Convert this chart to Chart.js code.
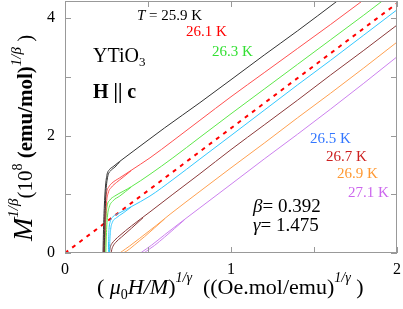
<!DOCTYPE html>
<html lang="en">
<head>
<meta charset="UTF-8">
<title>YTiO3 modified Arrott plot</title>
<script src="https://cdn.jsdelivr.net/npm/chart.js"></script>
<style>
  html, body { margin: 0; padding: 0; background: #fff; }
  #wrap { width: 403px; height: 309px; }
</style>
</head>
<body>
<div id="wrap"><canvas id="arrott"></canvas></div>
<script>
// temperatures (K) and colours
const temps = ['25.9', '26.1', '26.3', '26.5', '26.7', '26.9', '27.1'];
const lineColors = ['#333333', '#ff5050', '#5ee84a', '#33c8ff', '#8b3a3a', '#ffa050', '#cc80ee'];
const labelColors = ['#000000', '#ff0000', '#33e033', '#3377ff', '#cc2020', '#ff9933', '#cc66ee'];

// (mu0 H/M)^(1/gamma) , M^(1/beta)
const t259 = [[0.229,0],[0.232,0.4],[0.237,0.8],[0.243,1.1],[0.252,1.32],[0.268,1.42],[0.29,1.47],[0.33,1.56],[0.41,1.73],[0.5,1.92],[0.6,2.13],[0.813,2.56],[1.0,2.95],[1.2,3.37],[1.4,3.78],[1.645,4.3]];
const t261 = [[0.232,0],[0.236,0.4],[0.242,0.8],[0.25,1.02],[0.265,1.13],[0.283,1.19],[0.33,1.28],[0.4,1.41],[0.512,1.62],[0.65,1.91],[0.813,2.26],[1.0,2.66],[1.2,3.07],[1.4,3.48],[1.6,3.89],[1.795,4.3]];
const t263 = [[0.24,0],[0.243,0.3],[0.247,0.6],[0.254,0.8],[0.27,0.9],[0.3,0.97],[0.35,1.05],[0.4,1.13],[0.512,1.34],[0.65,1.62],[0.813,1.97],[1.0,2.37],[1.2,2.79],[1.4,3.21],[1.6,3.63],[1.8,4.05],[1.916,4.3]];
const t265 = [[0.262,0],[0.262,0.2],[0.265,0.4],[0.272,0.53],[0.29,0.62],[0.32,0.67],[0.4,0.79],[0.512,0.97],[0.65,1.25],[0.813,1.6],[1.0,2.0],[1.2,2.43],[1.4,2.86],[1.6,3.28],[1.8,3.71],[2.0,4.14]];
const t267 = [[0.268,0],[0.27,0.05],[0.275,0.12],[0.285,0.17],[0.3,0.22],[0.331,0.3],[0.4,0.46],[0.512,0.7],[0.65,1.0],[0.813,1.35],[1.0,1.76],[1.2,2.18],[1.4,2.6],[1.6,3.03],[1.8,3.45],[2.0,3.88]];
const t269 = [[0.33,0],[0.345,0.03],[0.365,0.07],[0.39,0.12],[0.45,0.25],[0.55,0.47],[0.633,0.66],[0.813,1.05],[1.0,1.45],[1.2,1.87],[1.4,2.3],[1.6,2.72],[1.8,3.15],[2.0,3.59]];
const t271 = [[0.455,0],[0.47,0.03],[0.49,0.07],[0.52,0.13],[0.6,0.31],[0.71,0.55],[0.813,0.77],[1.0,1.17],[1.2,1.6],[1.4,2.02],[1.6,2.45],[1.8,2.89],[2.0,3.34]];
// second sweep, visible only at low field
const t259b = [[0.236,0],[0.24,0.5],[0.246,1.0],[0.256,1.28],[0.275,1.4],[0.3,1.46],[0.33,1.555]];
const t261b = [[0.238,0],[0.243,0.45],[0.25,0.85],[0.26,1.02],[0.28,1.12],[0.31,1.2],[0.35,1.29],[0.4,1.405]];
const t263b = [[0.246,0],[0.25,0.35],[0.256,0.63],[0.266,0.78],[0.29,0.89],[0.33,0.97],[0.4,1.125]];
const t265b = [[0.268,0],[0.27,0.2],[0.275,0.4],[0.285,0.52],[0.31,0.6],[0.35,0.68],[0.4,0.785]];
const t267b = [[0.278,0],[0.282,0.06],[0.29,0.12],[0.305,0.18],[0.34,0.27],[0.4,0.42],[0.47,0.6]];
const t269b = [[0.35,0],[0.37,0.03],[0.39,0.07],[0.42,0.14],[0.48,0.28],[0.6,0.58]];
const t271b = [[0.475,0],[0.49,0.03],[0.51,0.07],[0.54,0.13],[0.6,0.27],[0.72,0.565]];
const curves = [t259, t261, t263, t265, t267, t269, t271];
const returns = [t259b, t261b, t263b, t265b, t267b, t269b, t271b];

// dashed guide through the origin
const guide = [[0,0],[2,4.25]];

// axes
const xTicks = [0, 1, 2];
const yTicks = [0, 2, 4];
const xMax = 2, yMax = 4.29;

const SERIF = '"Liberation Serif", "DejaVu Serif", serif';

function curveSet(pts, color, label) {
    return {
        label: label,
        data: pts.map(p => ({ x: p[0], y: p[1] })),
        borderColor: color,
        borderWidth: 1,
        pointRadius: 0,
        showLine: true,
        cubicInterpolationMode: 'monotone',
        fill: false
    };
}
const datasets = [];
curves.forEach((pts, i) => {
    datasets.push(curveSet(pts, lineColors[i], temps[i] + ' K'));
    datasets.push(curveSet(returns[i], lineColors[i], temps[i] + ' K (2)'));
});
datasets.push({
    label: 'guide',
    data: guide.map(p => ({ x: p[0], y: p[1] })),
    borderColor: '#ff0000',
    borderWidth: 2,
    borderDash: [4, 5],
    pointRadius: 0,
    showLine: true,
    fill: false
});

// draw a run of text pieces (for sub/superscripts)
function rich(ctx, x, y, parts) {
    for (const p of parts) {
        ctx.font = p.f;
        ctx.fillText(p.t, x, y + (p.dy || 0));
        x += ctx.measureText(p.t).width;
    }
    return x;
}

const decor = {
    id: 'decor',
    afterDraw(chart) {
        const ctx = chart.ctx;
        const a = chart.chartArea;
        const xs = chart.scales.x, ys = chart.scales.y;
        ctx.save();
        // frame
        ctx.strokeStyle = '#999';
        ctx.lineWidth = 1;
        ctx.strokeRect(a.left + 0.5, a.top + 0.5, a.right - a.left - 1, a.bottom - a.top - 1);
        // inward ticks on all sides
        ctx.beginPath();
        for (let v = 0; v <= xMax; v += 0.5) {
            const px = Math.round(xs.getPixelForValue(v)) + 0.5;
            ctx.moveTo(px, a.bottom); ctx.lineTo(px, a.bottom - 6);
            ctx.moveTo(px, a.top); ctx.lineTo(px, a.top + 6);
        }
        for (let v = 0; v <= yMax; v += 1) {
            const py = Math.round(ys.getPixelForValue(v)) + 0.5;
            ctx.moveTo(a.left, py); ctx.lineTo(a.left + 6, py);
            ctx.moveTo(a.right, py); ctx.lineTo(a.right - 6, py);
        }
        ctx.stroke();

        // tick labels
        ctx.fillStyle = '#000';
        ctx.font = '16px ' + SERIF;
        ctx.textAlign = 'center';
        ctx.textBaseline = 'middle';
        for (const v of xTicks) ctx.fillText(String(v), xs.getPixelForValue(v), a.bottom + 17);
        ctx.textAlign = 'right';
        for (const v of yTicks) ctx.fillText(String(v), a.left - 10, ys.getPixelForValue(v));

        ctx.textAlign = 'left';
        ctx.textBaseline = 'alphabetic';
        // temperature labels
        ctx.fillStyle = labelColors[0];
        rich(ctx, 137, 20, [
            { t: 'T', f: 'italic 15px ' + SERIF },
            { t: ' = ' + temps[0] + ' K', f: '15px ' + SERIF }
        ]);
        const labPos = [null, [186, 36], [212, 56], [310, 143], [326, 161], [337, 178], [348, 197]];
        ctx.font = '15px ' + SERIF;
        for (let i = 1; i < temps.length; i++) {
            ctx.fillStyle = labelColors[i];
            ctx.fillText(temps[i] + ' K', labPos[i][0], labPos[i][1]);
        }
        ctx.fillStyle = '#000';
        rich(ctx, 93, 62, [
            { t: 'YTiO', f: '20px ' + SERIF },
            { t: '3', f: '13px ' + SERIF, dy: 4 }
        ]);
        ctx.font = 'bold 20px ' + SERIF;
        ctx.fillText('H || c', 93, 98);
        rich(ctx, 253, 212, [
            { t: 'β', f: 'italic 19px ' + SERIF },
            { t: '= 0.392', f: '19px ' + SERIF }
        ]);
        rich(ctx, 253, 231, [
            { t: 'γ', f: 'italic 19px ' + SERIF },
            { t: '= 1.475', f: '19px ' + SERIF }
        ]);

        // x axis title
        rich(ctx, 97, 294, [
            { t: '( ', f: '22px ' + SERIF },
            { t: 'μ', f: 'italic 22px ' + SERIF },
            { t: '0', f: '14px ' + SERIF, dy: 5 },
            { t: 'H/M', f: 'italic 22px ' + SERIF },
            { t: ')', f: '22px ' + SERIF },
            { t: '1/γ', f: 'italic 14px ' + SERIF, dy: -12 },
            { t: '  ((Oe.mol/emu)', f: '22px ' + SERIF },
            { t: '1/γ', f: 'italic 14px ' + SERIF, dy: -12 },
            { t: ' )', f: '22px ' + SERIF }
        ]);

        // y axis title, rotated
        ctx.translate(32, 241);
        ctx.rotate(-Math.PI / 2);
        rich(ctx, 0, 0, [
            { t: 'M', f: 'italic 28px ' + SERIF },
            { t: '1/β', f: 'italic 15px ' + SERIF, dy: -14 },
            { t: '(10', f: '21px ' + SERIF },
            { t: '8', f: '14px ' + SERIF, dy: -10 },
            { t: ' (emu/mol)', f: 'bold 21px ' + SERIF },
            { t: '1/β', f: 'italic 15px ' + SERIF, dy: -11 },
            { t: ' )', f: '21px ' + SERIF }
        ]);
        ctx.restore();
    }
};

new Chart(document.getElementById('arrott').getContext('2d'), {
    type: 'scatter',
    data: { datasets: datasets },
    options: {
        responsive: true,
        maintainAspectRatio: false,
        animation: false,
        layout: { padding: { top: 1, right: 6, left: 0, bottom: 0 } },
        plugins: { legend: { display: false }, tooltip: { enabled: false } },
        scales: {
            x: {
                type: 'linear', min: 0, max: xMax,
                afterFit: s => { s.height = 56; },
                grid: { display: false, drawTicks: false },
                border: { display: false },
                ticks: { display: false }
            },
            y: {
                type: 'linear', min: 0, max: yMax,
                afterFit: s => { s.width = 65; },
                grid: { display: false, drawTicks: false },
                border: { display: false },
                ticks: { display: false }
            }
        }
    },
    plugins: [decor]
});
</script>
</body>
</html>
